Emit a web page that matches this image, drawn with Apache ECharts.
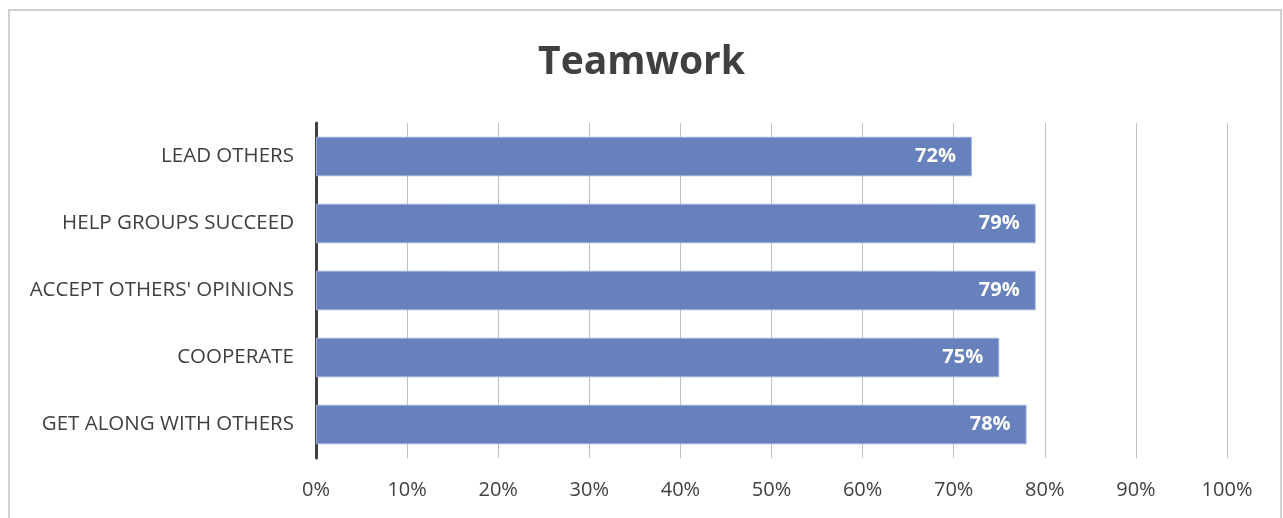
<!DOCTYPE html>
<html>
<head>
<meta charset="utf-8">
<script src="https://cdn.jsdelivr.net/npm/echarts@6/dist/echarts.min.js"></script>
<style>html,body{margin:0;padding:0;background:#fff;}#c{width:1283px;height:518px;}</style>
</head>
<body>
<div id="c"></div>
<script>
const categories = ["LEAD OTHERS", "HELP GROUPS SUCCEED", "ACCEPT OTHERS' OPINIONS", "COOPERATE", "GET ALONG WITH OTHERS"];
const values = [72, 79, 79, 75, 78];
const xTicks = [0, 10, 20, 30, 40, 50, 60, 70, 80, 90, 100];

const chart = echarts.init(document.getElementById('c'));
const font = "'Open Sans', 'Noto Sans', sans-serif";
chart.setOption({
  animation: false,
  title: {
    text: 'Teamwork', left: 'center', top: 38,
    textStyle: { fontFamily: font, fontSize: 39, fontWeight: 'bold', color: '#404040' }
  },
  graphic: [{
    type: 'rect', shape: { x: 9, y: 10, width: 1272, height: 530 },
    style: { fill: 'none', stroke: '#d0d0d0', lineWidth: 2 }, silent: true, z: -1
  }],
  grid: { left: 316, right: 56, top: 123, bottom: 60 },
  xAxis: {
    type: 'value', min: xTicks[0], max: xTicks[xTicks.length - 1], interval: 10,
    axisLine: { show: false }, axisTick: { show: false },
    splitLine: { lineStyle: { color: '#c0c0c0', width: 1 } },
    axisLabel: { formatter: '{value}%', fontFamily: font, fontSize: 20, color: '#404040', margin: 22 }
  },
  yAxis: {
    type: 'category', data: categories, inverse: true,
    axisLine: { lineStyle: { color: '#404040', width: 3 } },
    axisTick: { show: false },
    axisLabel: { fontFamily: font, fontSize: 20.5, color: '#404040', margin: 22 }
  },
  series: [{
    type: 'bar', data: values, barCategoryGap: '41%',
    itemStyle: { color: '#6781bc', borderColor: '#9fb1d9', borderWidth: 1 },
    label: {
      show: true, position: 'insideRight', distance: 16, formatter: '{c}%',
      fontFamily: font, fontSize: 20, fontWeight: 'bold', color: '#ffffff'
    }
  }]
});
</script>
</body>
</html>
